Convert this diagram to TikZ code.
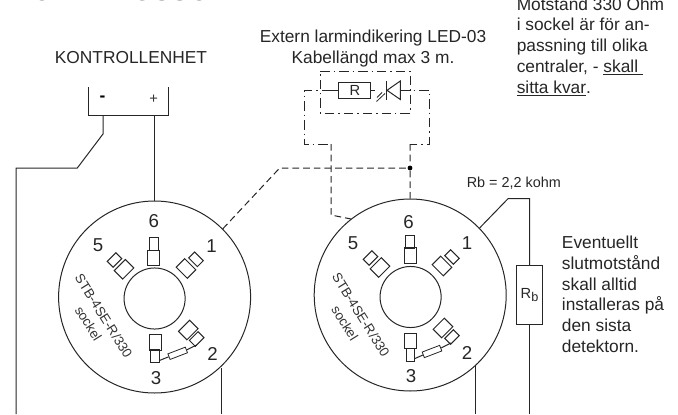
\documentclass[tikz,border=0pt]{standalone}
\usepackage{fontspec}
\setmainfont{Liberation Sans}
\tikzset{
 x=0.75pt,y=-0.75pt,
 wire/.style={line width=0.75pt,draw=black!85},
 dashwire/.style={line width=0.75pt,draw=black!85,dash pattern=on 5pt off 3pt},
 dotwire/.style={line width=0.75pt,draw=black!85,dash pattern=on 7pt off 3pt on 1.2pt off 3pt},
 pinwide/.style={draw=black!85,line width=0.75pt,minimum width=11.8pt,minimum height=9pt,inner sep=0pt},
 pinnarrow/.style={draw=black!85,line width=0.75pt,minimum width=9.2pt,minimum height=6.3pt,inner sep=0pt},
 resist/.style={draw=black!85,line width=0.6pt,minimum width=14pt,minimum height=4.5pt,inner sep=0pt},
 lbl/.style={font=\fontsize{13}{15}\selectfont,text=black!85,inner sep=0pt},
 num/.style={font=\fontsize{14}{16}\selectfont,text=black!85,inner sep=0pt},
 sock/.style={font=\fontsize{10}{12}\selectfont,text=black!80,inner sep=0pt,rotate=-58},
}
\begin{document}
\begin{tikzpicture}
\useasboundingbox (0,0) rectangle (678,414);
\clip (0,0) rectangle (678,414);
% title and notes
\node[anchor=base west,inner sep=0pt,font=\fontsize{20.2}{23}\bfseries\selectfont] (title) at (12,1) {KOPPLINGSSCHEMA};
\node[lbl,anchor=base] (kont) at (131,63.5) {KONTROLLENHET};
\node[lbl,anchor=base] (ext1) at (373,42) {Extern larmindikering LED-03};
\node[lbl,anchor=base] (ext2) at (373,63) {Kabellängd max 3 m.};
\node[lbl,anchor=base west] (n1) at (516.5,10) {Motstånd 330 Ohm};
\node[lbl,anchor=base west] (n2) at (516.5,30.7) {i sockel är för an-};
\node[lbl,anchor=base west] (n3) at (516.5,51.5) {passning till olika};
\node[lbl,anchor=base west] (n4) at (516.5,72.5) {centraler, - \underline{skall\ }};
\node[lbl,anchor=base west] (n5) at (516.5,93.3) {\underline{sitta kvar}.};
\node[anchor=base west,inner sep=0pt,font=\fontsize{10.8}{13}\selectfont,text=black!85] (rbt) at (466.5,187) {Rb = 2,2 kohm};
\node[lbl,anchor=base west] (e1) at (561.7,248) {Eventuellt};
\node[lbl,anchor=base west] (e2) at (561.7,269) {slutmotstånd};
\node[lbl,anchor=base west] (e3) at (561.7,290) {skall alltid};
\node[lbl,anchor=base west] (e4) at (561.7,310.7) {installeras på};
\node[lbl,anchor=base west] (e5) at (561.7,331.5) {den sista};
\node[lbl,anchor=base west] (e6) at (561.7,352.3) {detektorn.};
% control unit
\coordinate (ktl) at (88.3,87);
\coordinate (kbl) at (88.3,115.3);
\coordinate (kbr) at (168.7,115.3);
\coordinate (ktr) at (168.7,87);
\draw[wire] (ktl) -- (kbl) -- (kbr) -- (ktr);
\node[inner sep=0pt,font=\bfseries\fontsize{13}{15}\selectfont] (minus) at (102.5,98.5) {-};
\node[inner sep=0pt,font=\fontsize{11}{13}\selectfont,text=black!80] (plus) at (153.7,99) {+};
% sockets
\foreach \nm/\cx/\cy/\ix/\iy in {A/154.6/297/154.6/298.5,B/410.2/295/410.6/297}{
  \node[circle,draw=black!85,line width=0.75pt,minimum size=144pt,inner sep=0pt] (outer\nm) at (\cx,\cy) {};
  \node[circle,draw=black!85,line width=0.75pt,minimum size=45.8pt,inner sep=0pt] (inner\nm) at (\ix,\iy) {};
}
% socket A pins
\node[pinnarrow,rotate=90] (a6n) at (153.8,244) {};
\node[pinwide,rotate=90] (a6w) at (153.8,258) {};
\node[pinnarrow,rotate=135] (a1n) at (196,259.3) {};
\node[pinwide,rotate=135] (a1w) at (186,268.5) {};
\node[pinnarrow,rotate=45] (a5n) at (114.5,260) {};
\node[pinwide,rotate=45] (a5w) at (124,269.3) {};
\node[pinnarrow,rotate=45] (a2n) at (196.7,339) {};
\node[pinwide,rotate=45] (a2w) at (188.3,330) {};
\node[pinnarrow,rotate=90] (a3n) at (155,356) {};
\node[pinwide,rotate=90] (a3w) at (155.3,342.5) {};
\node[resist,rotate=21] (ar) at (177.7,353.3) {};
\coordinate (a3c) at (159.5,360.5);
\coordinate (a2c) at (196.7,345);
\draw[wire] (a3c) -- (ar.west);
\draw[wire] (ar.east) -- (a2c);
\node[num] (a6t) at (153.7,221.5) {6};
\node[num] (a1t) at (211.5,246) {1};
\node[num] (a5t) at (98,245) {5};
\node[num] (a2t) at (212.5,354) {2};
\node[num] (a3t) at (156,378) {3};
\node[sock] (as) at (103.8,316) {STB-4SE-R/330};
\node[sock] (ak) at (88.5,323.5) {sockel};
% socket B pins
\node[pinnarrow,rotate=90] (b6n) at (410,242) {};
\node[pinwide,rotate=90] (b6w) at (410,255.5) {};
\node[pinnarrow,rotate=135] (b1n) at (452,257) {};
\node[pinwide,rotate=135] (b1w) at (442,266) {};
\node[pinnarrow,rotate=45] (b5n) at (370.5,258) {};
\node[pinwide,rotate=45] (b5w) at (380,267.5) {};
\node[pinnarrow,rotate=45] (b2n) at (452,337) {};
\node[pinwide,rotate=45] (b2w) at (443,328) {};
\node[pinnarrow,rotate=90] (b3n) at (410.5,355) {};
\node[pinwide,rotate=90] (b3w) at (410.5,341) {};
\node[resist,rotate=21] (br) at (432,351.5) {};
\coordinate (b3c) at (415,358.5);
\coordinate (b2c) at (451,343);
\draw[wire] (b3c) -- (br.west);
\draw[wire] (br.east) -- (b2c);
\node[num] (b6t) at (408.5,222) {6};
\node[num] (b1t) at (467,243) {1};
\node[num] (b5t) at (353,243) {5};
\node[num] (b2t) at (467,353) {2};
\node[num] (b3t) at (411,376) {3};
\node[sock] (bs) at (361,315) {STB-4SE-R/330};
\node[sock] (bk) at (345,323) {sockel};
% wires
\coordinate (n1a) at (103,134);
\coordinate (n1b) at (77.3,168);
\coordinate (n1c) at (16,168);
\coordinate (n1d) at (16,414);
\coordinate (nst) at (103,115.3);
\draw[wire] (nst) -- (n1a) -- (n1b) -- (n1c) -- (n1d);
\coordinate (pst) at (154.5,115.3);
\draw[wire] (pst) -- (outerA.north -| pst);
\coordinate (abot) at (221,414);
\coordinate (atop) at (221,367.5);
\draw[wire] (atop) -- (abot);
\coordinate (bbot) at (475.7,414);
\coordinate (btop) at (475.7,365.5);
\draw[wire] (btop) -- (bbot);
% Rb
\node[draw=black!85,line width=0.75pt,minimum width=19pt,minimum height=44pt,inner sep=0pt,font=\fontsize{11}{13}\selectfont,text=black!85] (rb) at (529.5,295) {R\raisebox{-0.25em}{\fontsize{9.5}{11}\selectfont b}};
\coordinate (r1) at (508,198.7);
\coordinate (r2) at (529.7,198.7);
\coordinate (rbot) at (529.7,414);
\draw[wire] (outerB.44) -- (r1) -- (r2) -- (r2 |- rb.north);
\draw[wire] (rbot |- rb.south) -- (rbot);
% dashed link
\node[circle,fill=black,inner sep=0pt,minimum size=3.6pt] (dot) at (410,168) {};
\coordinate (d1) at (279.7,168);
\draw[dashwire] (outerA.45) -- (d1) -- (dot);
% LED assembly
\node[draw=black!85,line width=0.75pt,minimum width=23.8pt,minimum height=12pt,inner sep=0pt,font=\fontsize{11}{13}\selectfont,text=black!85] (rbox) at (354.8,90.5) {R};
\coordinate (bar1) at (386.3,81);
\coordinate (bar2) at (386.3,100);
\coordinate (tri1) at (400.3,81);
\coordinate (tri2) at (400.3,99.5);
\coordinate (tri3) at (387,90.3);
\draw[wire] (bar1) -- (bar2);
\draw[wire] (tri1) -- (tri3) -- (tri2) -- cycle;
\coordinate (ar1a) at (376.5,101.5);
\coordinate (ar1b) at (385,93.5);
\coordinate (ar2a) at (377,97.5);
\coordinate (ar2b) at (382,92.5);
\draw[line width=0.6pt,draw=black!85] (ar1a) -- (ar1b) (ar2a) -- (ar2b);
\coordinate (bt1) at (320.3,71);
\coordinate (bt2) at (410.3,71);
\coordinate (bt3) at (410.3,113);
\coordinate (bt4) at (320.3,113);
\draw[dotwire] (bt1) -- (bt2) -- (bt3) -- (bt4) -- cycle;
\coordinate (w1) at (331,90.5);
\draw[wire] (w1) -- (rbox.west);
\coordinate (w1b) at (374.5,90.5);
\draw[wire] (rbox.east) -- (w1b);
\coordinate (w2) at (304,90.5);
\coordinate (w3) at (304,144);
\coordinate (w4) at (331,144);
\coordinate (w5) at (331,215);
\draw[dotwire] (w1) -- (w2) -- (w3) -- (w4);
\draw[dashwire] (w4) -- (w5) -- (outerB.128);
\coordinate (v1) at (400.3,90.3);
\coordinate (v2) at (429.3,90.3);
\coordinate (v3) at (429.3,144);
\coordinate (v4) at (410,144);
\draw[dotwire] (v1) -- (v2) -- (v3) -- (v4);
\draw[dashwire] (v4) -- (dot) -- (outerB.north);
\end{tikzpicture}
\end{document}
